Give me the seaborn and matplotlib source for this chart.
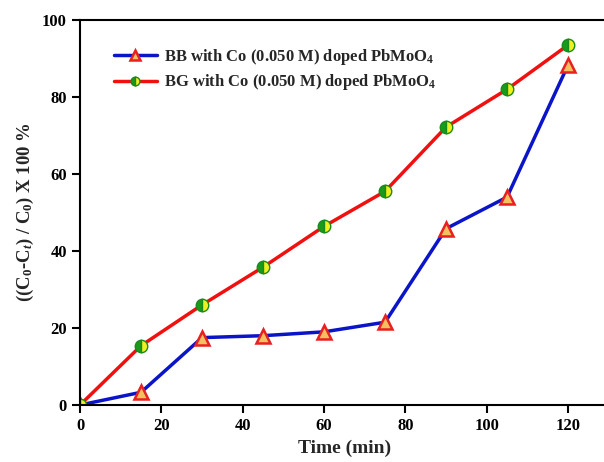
import matplotlib
matplotlib.use("Agg")
import matplotlib.pyplot as plt
import seaborn as sns
import pandas as pd

time_min = [0, 15, 30, 45, 60, 75, 90, 105, 120]
bb_values = [0, 3.3, 17.5, 18.0, 19.0, 21.5, 45.8, 54.0, 88.3]
bg_values = [0, 15.4, 26.0, 35.8, 46.4, 55.5, 72.2, 82.0, 93.5]
labels = ["BB with Co (0.050 M) doped PbMoO$_\\mathbf{4}$",
          "BG with Co (0.050 M) doped PbMoO$_\\mathbf{4}$"]

sns.set_theme(style="ticks")
plt.rcParams['font.family'] = ['Liberation Serif', 'DejaVu Serif']
plt.rcParams['mathtext.fontset'] = 'custom'
plt.rcParams['mathtext.rm'] = 'Liberation Serif:bold'
plt.rcParams['mathtext.bf'] = 'Liberation Serif:bold'
plt.rcParams['mathtext.it'] = 'Liberation Serif:bold:italic'

fig = plt.figure(figsize=(6.04, 4.62), dpi=100)
ax = fig.add_axes([0.1325, 0.1234, 0.8753, 0.8333])

df_bb = pd.DataFrame({"t": time_min, "v": bb_values})
df_bg = pd.DataFrame({"t": time_min, "v": bg_values})

sns.lineplot(data=df_bb, x="t", y="v", ax=ax, color="#0a14c8", lw=2.5,
             marker="^", markersize=10, markerfacecolor="#f5c060",
             markeredgecolor="#e82020", markeredgewidth=1.8, label=labels[0])
sns.lineplot(data=df_bg, x="t", y="v", ax=ax, color="#f01010", lw=2.5,
             marker="o", markersize=9, fillstyle="left",
             markerfacecolor="#1a9a1a", markerfacecoloralt="#f0f020",
             markeredgecolor="#1a8a1a", markeredgewidth=1.0, label=labels[1])

ax.set_xlim(0, 130)
ax.set_ylim(0, 100)
ax.set_xticks([0, 20, 40, 60, 80, 100, 120])
ax.set_yticks([0, 20, 40, 60, 80, 100])
for lab in ax.get_xticklabels() + ax.get_yticklabels():
    lab.set_fontweight("bold")
    lab.set_fontsize(12)
ax.tick_params(direction="out", length=6, width=1.5, colors="black")
for s in ax.spines.values():
    s.set_linewidth(1.5)
    s.set_color("black")
ax.spines["right"].set_visible(False)

ax.set_xlabel("Time (min)", fontsize=14, fontweight="bold")
ax.set_ylabel("((C$_0$-C$_t$) / C$_0$) X 100 %", fontsize=13.5, fontweight="bold")

leg = ax.legend(loc="upper left", bbox_to_anchor=(0.035, 0.97), frameon=False,
                handlelength=2.6, handletextpad=0.4, labelspacing=0.35,
                markerscale=0.7, prop={"weight": "bold", "size": 12})

fig.savefig("out.png", dpi=100)
